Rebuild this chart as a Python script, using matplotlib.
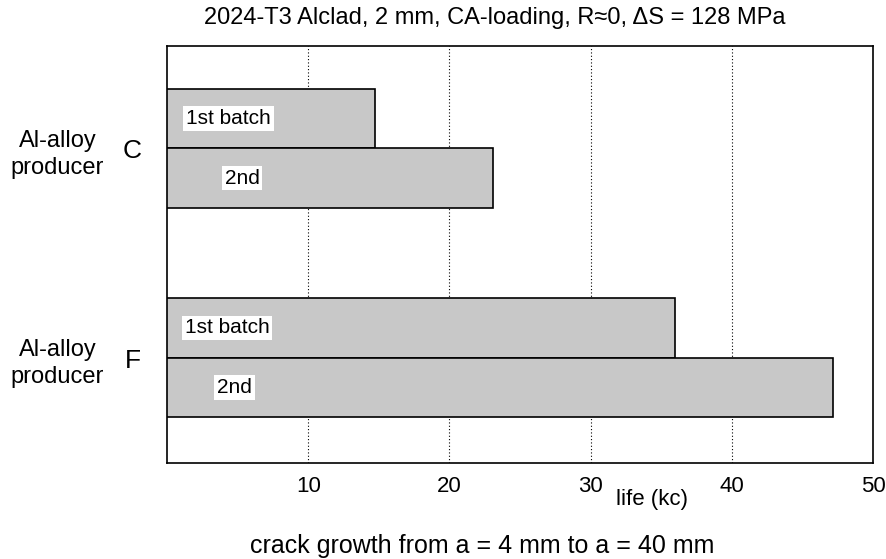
import matplotlib.pyplot as plt

plt.rcParams['font.family'] = ['Liberation Sans', 'DejaVu Sans']

# life (kc) for each batch
producers = ['C', 'F']
first_batch = [14.75, 36.0]
second_batch = [23.1, 47.2]
batch_labels = ['1st batch', '2nd']
xticks = [10, 20, 30, 40, 50]

fig = plt.figure(figsize=(8.87, 5.59), dpi=100)
ax = fig.add_axes([167 / 887, 1 - 463 / 559, 706 / 887, 417 / 559])

group_centers = [1.72, 5.23]
bar_h = 1.0
label_x = {'C': (1.35, 4.1), 'F': (1.25, 3.55)}

for i, p in enumerate(producers):
    yc = group_centers[i]
    ax.barh(yc - 0.5, first_batch[i], height=bar_h, color='#c8c8c8',
            edgecolor='black', linewidth=1.2, zorder=3)
    ax.barh(yc + 0.5, second_batch[i], height=bar_h, color='#c8c8c8',
            edgecolor='black', linewidth=1.2, zorder=3)
    lx1, lx2 = label_x[p]
    for y, x, t in [(yc - 0.5, lx1, batch_labels[0]), (yc + 0.5, lx2, batch_labels[1])]:
        ax.text(x, y, t, fontsize=15, va='center', ha='left', zorder=4,
                bbox=dict(facecolor='white', edgecolor='none', pad=2))
    # producer labels on the left
    ax.text(-2.45, yc + 0.05, p, fontsize=19, ha='center', va='center')
    ax.text(-7.75, yc + 0.1, 'Al-alloy\nproducer', fontsize=17, ha='center',
            va='center', linespacing=1.25)

ax.set_xlim(0, 50)
ax.set_ylim(7, 0)
ax.set_xticks(xticks)
ax.set_xticklabels([str(v) for v in xticks], fontsize=16)
ax.set_yticks([])
ax.tick_params(axis='x', length=0, pad=9)
for v in xticks[:-1]:
    ax.axvline(v, color='black', linestyle=(0, (1, 2)), linewidth=0.8, zorder=1)
for s in ax.spines.values():
    s.set_linewidth(1.2)

fig.text(652 / 887, 1 - 499 / 559, 'life (kc)', fontsize=16, ha='center', va='center')
fig.text(495 / 887, 1 - 18 / 559, '2024-T3 Alclad, 2 mm, CA-loading, R\u22480, \u0394S = 128 MPa',
         fontsize=17, ha='center', va='center')
fig.text(482 / 887, 1 - 546 / 559, 'crack growth from a = 4 mm to a = 40 mm',
         fontsize=18, ha='center', va='center')

fig.savefig('out.png', dpi=100)
